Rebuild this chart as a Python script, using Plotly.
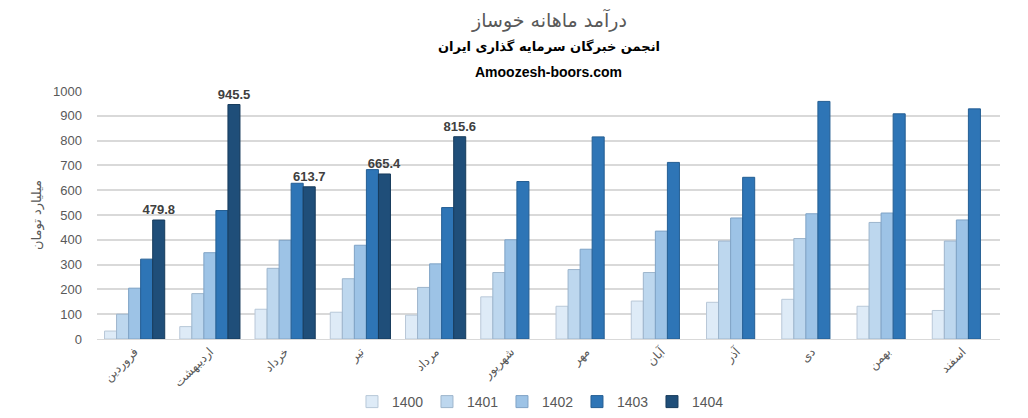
import plotly.graph_objects as go

months = ["فروردین", "اردیبهشت", "خرداد", "تیر", "مرداد", "شهریور",
          "مهر", "آبان", "آذر", "دی", "بهمن", "اسفند"]
years = ["1400", "1401", "1402", "1403", "1404"]

v1400 = [32, 50, 120, 108, 96, 170, 132, 153, 148, 160, 132, 115]
v1401 = [100, 183, 285, 243, 208, 268, 280, 268, 395, 405, 470, 395]
v1402 = [205, 348, 398, 378, 303, 400, 362, 435, 488, 505, 508, 480]
v1403 = [322, 518, 628, 683, 530, 635, 815, 712, 652, 958, 908, 928]
v1404 = [479.8, 945.5, 613.7, 665.4, 815.6, None, None, None, None, None, None, None]
series = [v1400, v1401, v1402, v1403, v1404]

colors = ["#DEEBF7", "#BDD7EE", "#9DC3E6", "#2E75B6", "#1F4E79"]
edges = ["#B8C8D8", "#9DB5CC", "#7FA3C6", "#245E93", "#173B5C"]

title_main = "درآمد ماهانه خوساز"
title_sub1 = "انجمن خبرگان سرمایه گذاری ایران"
title_sub2 = "Amoozesh-boors.com"
y_title = "میلیارد تومان"

fig = go.Figure()
for yr, vals, c, e in zip(years, series, colors, edges):
    kw = {}
    if yr == "1404":
        kw = dict(text=[("%.1f" % v) if v is not None else "" for v in vals],
                  textposition="outside", constraintext="none",
                  textfont=dict(size=13, color="#404040", family="Liberation Sans, DejaVu Sans"),
                  texttemplate="<b>%{text}</b>", cliponaxis=False)
    fig.add_trace(go.Bar(x=months, y=vals, name=yr,
                         marker=dict(color=c, line=dict(color=e, width=1)), **kw))

# page is offset by the 8px body margin
OFF = 8
H_PLOT = 248.0
def py(ypx):
    return (339 - ypx) / H_PLOT

fig.update_layout(
    width=1020, height=410,
    paper_bgcolor="white", plot_bgcolor="white",
    font=dict(family="Liberation Sans, DejaVu Sans", color="#595959", size=13),
    margin=dict(l=97 - OFF, r=28, t=91 - OFF, b=79, autoexpand=False),
    barmode="group", bargap=0.2, bargroupgap=0,
    showlegend=True,
    legend=dict(orientation="h", x=0.49, xanchor="center", y=py(402), yanchor="middle",
                font=dict(size=14, color="#595959"), entrywidth=30, entrywidthmode="pixels",
                itemwidth=30, traceorder="normal"),
    xaxis=dict(tickangle=-45, tickfont=dict(size=12, color="#595959", family="DejaVu Sans"),
               showgrid=False, showline=True, linecolor="#D9D9D9", ticks=""),
    yaxis=dict(range=[0, 1000], dtick=100, showgrid=True, gridcolor="#D9D9D9", gridwidth=1.5,
               zeroline=False, tickfont=dict(size=13, color="#595959"), ticklabelstandoff=14,
               title=dict(text=y_title, font=dict(size=13, color="#595959", family="DejaVu Sans"),
                          standoff=8)),
    annotations=[
        dict(text=title_main, x=0.5, y=py(20), xref="paper", yref="paper", showarrow=False,
             xanchor="center", yanchor="middle", font=dict(size=19, color="#595959", family="DejaVu Sans")),
        dict(text="<b>" + title_sub1 + "</b>", x=0.5, y=py(47), xref="paper", yref="paper",
             showarrow=False, xanchor="center", yanchor="middle",
             font=dict(size=13, color="#000000", family="DejaVu Sans")),
        dict(text="<b>" + title_sub2 + "</b>", x=0.5, y=py(72), xref="paper", yref="paper",
             showarrow=False, xanchor="center", yanchor="middle",
             font=dict(size=14, color="#000000", family="Liberation Sans, DejaVu Sans")),
    ],
)

fig.write_html("out.html")
